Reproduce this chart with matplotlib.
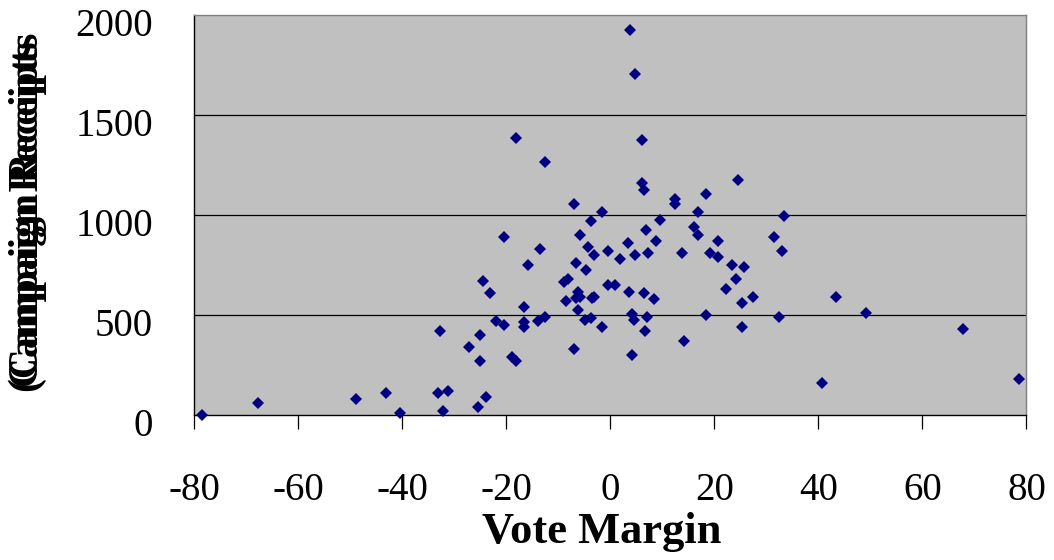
#!/usr/bin/env python

import matplotlib

matplotlib.use("Agg")
import matplotlib.pyplot as plt
import matplotlib.transforms as transforms

# Vote margin (x) and campaign receipts (y)
vote_margin: list[float] = [
    -78.5, -67.7, -48.9, -43.1, -40.4, -32.7, -33.1, -31.2, -32.3, -27.3,
    -25.0, -25.0, -24.6, -23.1, -23.9, -25.4, -22.0, -20.4, -20.4, -18.9,
    -18.1, -18.1, -12.5, -15.8, -13.6, -16.6, -16.6, -16.6, -14.0, -12.5,
    -7.1, -1.7, -3.7, -5.9, -4.4, -3.2, -0.5, 1.8, 3.3, 4.8,
    7.2, 6.8, 8.7, -6.7, -4.8, -8.9, -8.2, -6.3, -6.7, -5.9,
    -8.6, -3.6, -3.1, -0.5, 0.9, 3.6, 6.4, 8.3, -6.3, -4.9,
    -3.7, -1.7, -7.1, 4.1, 4.5, 7.0, 6.7, 4.1, 14.1, 18.3,
    22.2, 24.1, 25.2, 27.5, 25.2, 32.5, 3.7, 4.8, 6.0, 6.0,
    6.4, 12.5, 12.5, 18.3, 16.8, 9.5, 24.6, 16.0, 16.8, 20.6,
    13.7, 19.1, 20.6, 23.3, 25.6, 33.3, 31.4, 32.9, 43.3, 49.1,
    67.8, 40.6, 78.6,
]
campaign_receipts: list[float] = [
    0, 60, 78, 108, 10, 420, 110, 118, 18, 338,
    400, 270, 668, 608, 90, 40, 470, 450, 888, 288,
    272, 1387, 1267, 750, 828, 540, 463, 438, 470, 490,
    1055, 1015, 970, 898, 842, 800, 820, 778, 860, 800,
    810, 927, 870, 760, 727, 665, 682, 617, 585, 592,
    572, 583, 592, 650, 650, 617, 610, 580, 525, 475,
    483, 438, 330, 505, 477, 490, 420, 300, 368, 500,
    628, 678, 558, 592, 438, 490, 1925, 1707, 1375, 1158,
    1125, 1078, 1053, 1105, 1015, 975, 1175, 938, 898, 870,
    810, 810, 790, 752, 738, 997, 888, 820, 590, 510,
    430, 160, 180,
]

x_ticks: list[int] = [-80, -60, -40, -20, 0, 20, 40, 60, 80]
y_ticks: list[int] = [0, 500, 1000, 1500, 2000]

x_label: str = "Vote Margin"
y_labels: list[str] = ["(Campaign Receipts", "Campaign Receipts"]

SERIF: str = "Liberation Serif"
PLOT_BG: str = "#C0C0C0"
MARKER_COLOR: str = "#000080"


def main() -> int:
    """Draw the vote margin / receipts scatter and save it as out.png."""
    plt.rcParams["font.family"] = [SERIF, "DejaVu Serif"]

    figure = plt.figure(figsize=(10.54, 5.6), dpi=100)
    axis = figure.add_axes((0.1845, 0.2589, 0.7894, 0.7143))
    axis.set_facecolor(PLOT_BG)

    axis.plot(
        vote_margin,
        campaign_receipts,
        linestyle="none",
        marker="D",
        markersize=6.4,
        markeredgewidth=0,
        color=MARKER_COLOR,
        clip_on=False,
        zorder=3,
    )

    axis.set_xlim(-80, 80)
    axis.set_ylim(0, 2000)
    axis.set_xticks(x_ticks)
    axis.set_yticks(y_ticks)
    axis.set_xticklabels([str(t) for t in x_ticks])
    axis.set_yticklabels([str(t) for t in y_ticks])

    for value in y_ticks[1:-1]:
        axis.axhline(value, color="black", linewidth=0.9, zorder=1)

    axis.tick_params(
        axis="x", direction="out", length=10, width=0.9, pad=31, labelsize=28
    )
    axis.tick_params(axis="y", length=0, pad=30, labelsize=28)

    # excel puts the y labels a touch lower than the gridlines
    shift = transforms.ScaledTranslation(0, -0.07, figure.dpi_scale_trans)
    for label in axis.get_yticklabels():
        label.set_transform(label.get_transform() + shift)

    axis.spines["left"].set_color("black")
    axis.spines["bottom"].set_color("black")
    axis.spines["top"].set_color("#808080")
    axis.spines["right"].set_color("#808080")
    for spine in axis.spines.values():
        spine.set_linewidth(1.0)

    figure.text(
        602 / 1054,
        1 - 532 / 560,
        x_label,
        ha="center",
        va="center",
        fontsize=32,
        fontweight="bold",
    )
    # the two y labels sit on top of each other like in the source
    for text, bottom in zip(y_labels, [392, 387]):
        figure.text(
            28 / 1054,
            1 - bottom / 560,
            text,
            rotation=90,
            ha="center",
            va="bottom",
            fontsize=30,
            fontweight="bold",
        )

    figure.savefig("out.png", dpi=100)
    return 0


if __name__ == "__main__":
    main()
